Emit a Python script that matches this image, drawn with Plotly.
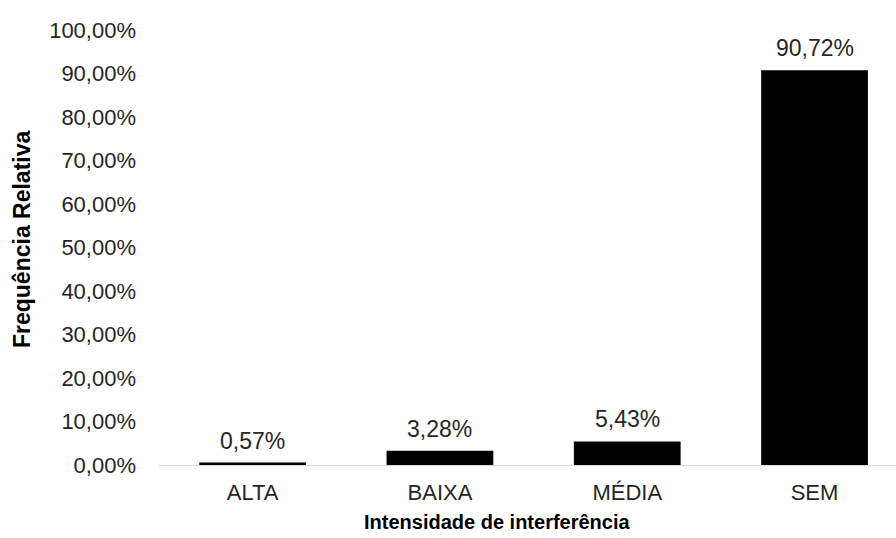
import plotly.graph_objects as go

categories = ["ALTA", "BAIXA", "MÉDIA", "SEM"]
values = [0.0057, 0.0328, 0.0543, 0.9072]
x_title = "Intensidade de interferência"
y_title = "Frequência Relativa"

FONT = "Liberation Sans, Arial, sans-serif"

fig = go.Figure()
fig.add_trace(go.Bar(
    x=categories, y=values,
    marker=dict(color="#000000", line=dict(width=0)),
    width=0.57,
    hoverinfo="skip",
))

for c, v in zip(categories, values):
    fig.add_annotation(
        x=c, y=v, text=f"{v*100:.2f}".replace(".", ",") + "%",
        showarrow=False, yanchor="middle", yshift=22,
        font=dict(family=FONT, size=23, color="#262626"),
    )

fig.add_annotation(
    xref="paper", yref="paper", x=(497 - 159) / (896 - 159), y=-(523 - 465.5) / (465.5 - 29.5),
    text=f"<b>{x_title}</b>", showarrow=False, xanchor="center", yanchor="middle",
    font=dict(family=FONT, size=20, color="#000000"),
)
fig.add_annotation(
    xref="paper", yref="paper", x=-(159 - 22) / (896 - 159), y=(465.5 - 239) / (465.5 - 29.5),
    text=f"<b>{y_title}</b>", showarrow=False, xanchor="center", yanchor="middle",
    textangle=-90,
    font=dict(family=FONT, size=23, color="#000000"),
)

fig.update_layout(
    width=896, height=538,
    margin=dict(l=159, r=0, t=29.5, b=538 - 465.5),
    paper_bgcolor="white", plot_bgcolor="white",
    separators=",.",
    showlegend=False,
    font=dict(family=FONT, size=22, color="#262626"),
)
fig.update_xaxes(
    range=[-0.5, 3.435],
    showline=True, linecolor="#d9d9d9", linewidth=1,
    showgrid=False, zeroline=False,
    ticks="", ticklabelstandoff=8,
    tickfont=dict(family=FONT, size=22, color="#262626"),
)
fig.update_yaxes(
    range=[0, 1], dtick=0.1, tickformat=".2%",
    showline=False, showgrid=False, zeroline=False,
    ticks="", ticklabelstandoff=22,
    tickfont=dict(family=FONT, size=22, color="#262626"),
)

fig.write_html("out.html", config={"displayModeBar": False},
               post_script="document.body.style.margin='0';")
